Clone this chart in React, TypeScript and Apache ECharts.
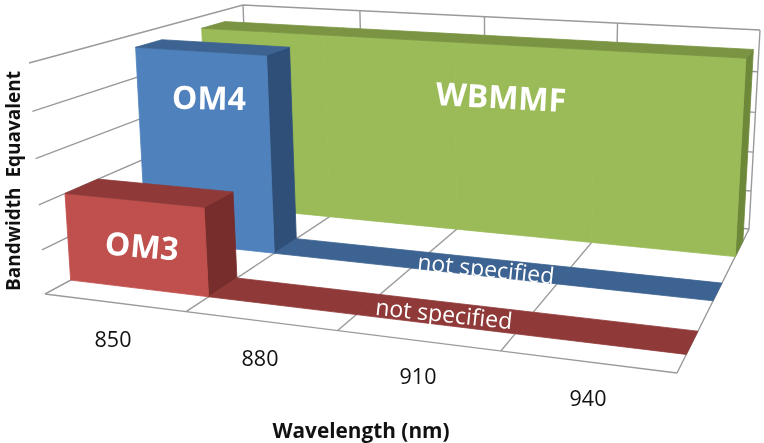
import React, { useEffect, useRef } from "react";
import * as echarts from "echarts";

// ---- data ----
const wavelengths = ["850", "880", "910", "940"];
const yTicks = [0, 1, 2, 3, 4, 5];
const om3Values = [2.0, 0, 0, 0];
const om4Values = [4.7, 0, 0, 0];
const wbmmfValues = [4.7, 4.7, 4.7, 4.7];
const yMax = 5;

// ---- layout (scene geometry, not data) ----
const W = 764;
const H = 443;
type P = [number, number];
const floorCorners: P[] = [[45, 294], [677, 373], [749, 229], [250, 183]];
const topCorners: P[] = [[29, 63], [689, 108], [760, 30], [243, 5]];
const HEIGHT_K = 1.06;

function homography(c: P[]) {
  const [[x0, y0], [x1, y1], [x2, y2], [x3, y3]] = c;
  const dx1 = x1 - x2, dx2 = x3 - x2, sx = x0 - x1 + x2 - x3;
  const dy1 = y1 - y2, dy2 = y3 - y2, sy = y0 - y1 + y2 - y3;
  const den = dx1 * dy2 - dx2 * dy1;
  const g = (sx * dy2 - dx2 * sy) / den;
  const h = (dx1 * sy - sx * dy1) / den;
  const a = x1 - x0 + g * x1, b = x3 - x0 + h * x3;
  const d = y1 - y0 + g * y1, e = y3 - y0 + h * y3;
  return (u: number, v: number): P => {
    const w = g * u + h * v + 1;
    return [(a * u + b * v + x0) / w, (d * u + e * v + y0) / w];
  };
}
const floorH = homography(floorCorners);
const topH = homography(topCorners);
const nCat = wavelengths.length;

// u: category position, v: depth 0..1, t: normalised height 0..1
function project(u: number, v: number, t: number): P {
  const a = floorH(u / nCat, v);
  const b = topH(u / nCat, v);
  const f = t <= 0 ? 0 : t / (t + HEIGHT_K * (1 - t));
  return [a[0] + (b[0] - a[0]) * f, a[1] + (b[1] - a[1]) * f];
}

const GRID_COLOR = "#9a9a9a";

function wallItem() {
  const children: any[] = [];
  const line = (pts: P[], w = 1.4) =>
    children.push({
      type: "polyline",
      shape: { points: pts },
      style: { stroke: GRID_COLOR, lineWidth: w, fill: "none" },
    });
  yTicks.forEach((tick) => {
    const t = tick / yMax;
    line([project(0, 0, t), project(0, 1, t), project(nCat, 1, t)]);
  });
  for (let i = 0; i <= nCat; i++) {
    line([project(i, 1, 1), project(i, 1, 0), project(i, 0, 0)]);
  }
  line([project(0, 0, 0), project(nCat, 0, 0)]);
  return { type: "group", children };
}

type Row = { v0: number; v1: number; front: string; top: string; side: string; values: number[] };
const rowGreen: Row = { v0: 0.76, v1: 0.89, front: "#9BBB59", top: "#7A9443", side: "#6E883A", values: wbmmfValues };
const rowBlue: Row = { v0: 0.43, v1: 0.555, front: "#4F81BD", top: "#3C6391", side: "#2F4F78", values: om4Values };
const rowRed: Row = { v0: 0.1, v1: 0.235, front: "#C0504D", top: "#8F3A38", side: "#772D2B", values: om3Values };

function boxRender(row: Row) {
  return (params: any, api: any) => {
    const i = api.value(0) as number;
    const val = api.value(1) as number;
    const pix = api.coord([i, val]);
    const base = api.coord([i, 0]);
    const t = (base[1] - pix[1]) / H;
    const u0 = i;
    const u1 = i + 1;
    const poly = (pts: P[], fill: string) => ({
      type: "polygon",
      shape: { points: pts },
      style: { fill, stroke: fill, lineWidth: 0.8, lineJoin: "round" },
    });
    const children: any[] = [];
    const next = row.values[i + 1];
    if (t > 0 && (next === undefined || next < val)) {
      children.push(
        poly([project(u1, row.v0, 0), project(u1, row.v1, 0), project(u1, row.v1, t), project(u1, row.v0, t)], row.side),
      );
    }
    if (t > 0) {
      children.push(
        poly([project(u0, row.v0, 0), project(u1, row.v0, 0), project(u1, row.v0, t), project(u0, row.v0, t)], row.front),
      );
    }
    children.push(
      poly([project(u0, row.v0, t), project(u1, row.v0, t), project(u1, row.v1, t), project(u0, row.v1, t)], row.top),
    );
    return { type: "group", children };
  };
}

function rowSeries(name: string, row: Row, z: number) {
  return {
    type: "custom",
    name,
    z,
    renderItem: boxRender(row),
    encode: { x: 0, y: 1 },
    data: row.values.map((v, i) => [i, v]),
    silent: true,
  };
}

function label(text: string, x: number, y: number, deg: number, font: string, fill: string) {
  return {
    type: "text",
    x,
    y,
    z: 100,
    rotation: (deg * Math.PI) / 180,
    style: { text, font, fill, textAlign: "center", textVerticalAlign: "middle" },
  };
}

const FONT = '"Open Sans", sans-serif';
const tickLabelPos: P[] = [[113, 338], [260, 357], [418, 375], [588, 397]];

export default function App() {
  const ref = useRef<HTMLDivElement>(null);
  useEffect(() => {
    document.body.style.margin = "0";
    const chart = echarts.init(ref.current!, undefined, { renderer: "svg", width: W, height: H });
    chart.setOption({
      animation: false,
      backgroundColor: "#ffffff",
      grid: { left: 0, top: 0, width: W, height: H },
      xAxis: { type: "category", data: wavelengths, show: false },
      yAxis: { type: "value", min: 0, max: yMax, show: false },
      series: [
        {
          type: "custom",
          name: "walls",
          z: 1,
          silent: true,
          renderItem: wallItem,
          encode: { x: 0, y: 1 },
          data: [[0, 0]],
        },
        rowSeries("WBMMF", rowGreen, 2),
        rowSeries("OM4", rowBlue, 3),
        rowSeries("OM3", rowRed, 4),
      ],
      graphic: {
        elements: [
          ...wavelengths.map((w, i) =>
            label(w, tickLabelPos[i][0], tickLabelPos[i][1], 0, `21.5px ${FONT}`, "#111"),
          ),
          label("Wavelength (nm)", 361, 430, 0, `bold 20.8px ${FONT}`, "#111"),
          label("Bandwidth  Equavalent", 13, 181, 90, `bold 19px ${FONT}`, "#111"),
          label("OM4", 209, 97, -1, `bold 32px ${FONT}`, "#fff"),
          label("OM3", 142, 245, -5, `bold 32px ${FONT}`, "#fff"),
          label("WBMMF", 501, 96, -3, `bold 32px ${FONT}`, "#fff"),
          label("not specified", 486, 268, -6, `23px ${FONT}`, "#fff"),
          label("not specified", 444, 313, -6, `23px ${FONT}`, "#fff"),
        ],
      },
    });
    return () => chart.dispose();
  }, []);
  return <div ref={ref} style={{ width: W, height: H, filter: "blur(0.4px)" }} />;
}
